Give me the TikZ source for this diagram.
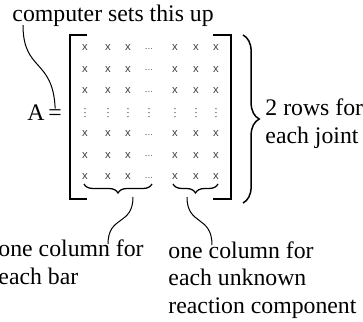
\documentclass[tikz,border=0pt]{standalone}
\usepackage{fontspec}
\setmainfont{Liberation Serif}
\setsansfont{Liberation Sans}
\usetikzlibrary{decorations.pathreplacing}
\tikzset{
	lbl/.style={inner sep=0pt, font=\fontsize{9.5}{11}\selectfont, align=left},
	entry/.style={inner sep=0pt, text=black!75, font=\fontsize{4.5}{4.5}\sffamily},
	leader/.style={line width=0.4pt},
	brk/.style={line width=1pt},
}
\begin{document}
\begin{tikzpicture}[x=0.4pt, y=-0.4pt]
	\useasboundingbox (0,0) rectangle (363,322);
	% labels (base = last line)
	\node[lbl, anchor=base west] (setup) at (12,21) {computer sets this up};
	\node[lbl, anchor=base west] (A) at (27,120) {A};
	\node[lbl, anchor=base west] (eq) at (48,120) {=};
	\node[lbl, anchor=base west] (rows) at (265,143) {2 rows for\\each joint};
	\node[lbl, anchor=base west] (bars) at (-2,284) {one column for\\each bar};
	\node[lbl, anchor=base west] (reac) at (168,313) {one column for\\each unknown\\reaction component};
	% brackets
	\draw[brk] (87,35) -| (70,199) -- (87,199);
	\draw[brk] (213,35) -| (231,199) -- (213,199);
	% entries
	\foreach \y [count=\r] in {48,69.5,91,134,155.5,177} {
		\foreach \x [count=\c] in {85,108,128,175,196,216} {
			\node[entry] (m\r\c) at (\x,\y) {x};
		}
		\node[entry, font=\fontsize{3.5}{3.5}\sffamily] (d\r) at (149,\y+1) {\ldots};
	}
	\foreach \x in {85,108,128,149,175,196,216} {
		\foreach \dy in {-4,0,4} {
			\fill[black!65] (\x,112.5+\dy) circle (0.3pt);
		}
	}
	% braces
	\draw[line width=0.5pt, decorate, decoration={brace, mirror, amplitude=3.6pt}] (84,184) -- (152,184);
	\draw[line width=0.5pt, decorate, decoration={brace, mirror, amplitude=3.6pt}] (173,184) -- (218,184);
	\draw[line width=0.6pt, decorate, decoration={brace, amplitude=6.5pt}] (243,35) -- (243,203);
	% leaders
	\coordinate (c1) at (23,25);
	\coordinate (c2) at (133,197);
	\coordinate (c3) at (108,244);
	\coordinate (c4) at (187,197);
	\coordinate (c5) at (212,245);
	\draw[leader] (c1) .. controls (23,72) and (53,58) .. (eq.north);
	\draw[leader] (c2) .. controls (133,226) and (108,215) .. (c3);
	\draw[leader] (c4) .. controls (187,226) and (212,215) .. (c5);
\end{tikzpicture}
\end{document}
